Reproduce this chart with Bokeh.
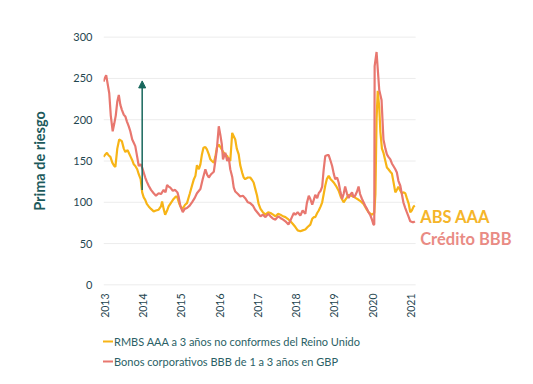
import math
from bokeh.plotting import figure
from bokeh.layouts import column
from bokeh.models import FixedTicker, Legend, LegendItem, Label, Arrow, NormalHead, Range1d
from bokeh.embed import file_html
from bokeh.resources import INLINE

# --- data ---
bbb_x = [2012.97, 2013.00, 2013.04, 2013.08, 2013.12, 2013.16, 2013.21, 2013.25, 2013.29, 2013.33,
         2013.37, 2013.41, 2013.45, 2013.50, 2013.54, 2013.58, 2013.63, 2013.67, 2013.72, 2013.76,
         2013.80, 2013.85, 2013.89, 2013.94, 2013.98, 2014.02, 2014.06, 2014.10, 2014.15, 2014.21,
         2014.28, 2014.34, 2014.41, 2014.47, 2014.54, 2014.59, 2014.63, 2014.67, 2014.71, 2014.78,
         2014.84, 2014.90, 2014.93, 2014.98, 2015.04, 2015.09, 2015.15, 2015.22, 2015.28, 2015.35,
         2015.41, 2015.50, 2015.56, 2015.63, 2015.68, 2015.72, 2015.78, 2015.85, 2015.89, 2015.93,
         2015.98, 2016.02, 2016.06, 2016.09, 2016.15, 2016.20, 2016.24, 2016.28, 2016.33, 2016.37,
         2016.41, 2016.48, 2016.54, 2016.61, 2016.67, 2016.74, 2016.80, 2016.87, 2016.93, 2017.00,
         2017.07, 2017.13, 2017.20, 2017.27, 2017.33, 2017.40, 2017.46, 2017.53, 2017.59, 2017.66,
         2017.72, 2017.80, 2017.85, 2017.89, 2017.94, 2017.98, 2018.04, 2018.11, 2018.17, 2018.24,
         2018.28, 2018.33, 2018.37, 2018.42, 2018.46, 2018.50, 2018.55, 2018.59, 2018.64, 2018.68,
         2018.72, 2018.76, 2018.81, 2018.85, 2018.90, 2018.94, 2018.98, 2019.02, 2019.07, 2019.11,
         2019.15, 2019.20, 2019.24, 2019.28, 2019.33, 2019.37, 2019.41, 2019.46, 2019.50, 2019.54,
         2019.59, 2019.63, 2019.67, 2019.72, 2019.76, 2019.80, 2019.85, 2019.89, 2019.94, 2019.98,
         2020.02, 2020.04, 2020.05, 2020.10, 2020.13, 2020.17, 2020.20, 2020.23, 2020.26, 2020.28,
         2020.33, 2020.37, 2020.41, 2020.46, 2020.50, 2020.54, 2020.59, 2020.63, 2020.67, 2020.72,
         2020.76, 2020.80, 2020.85, 2020.89, 2020.94, 2020.98, 2021.03, 2021.07, 2021.10]
bbb_y = [246, 250, 254, 243, 232, 205, 186, 195, 205, 222,
         230, 218, 212, 206, 204, 198, 192, 186, 176, 172,
         168, 155, 144, 146, 142, 136, 130, 125, 120, 115,
         111, 108, 111, 110, 115, 112, 121, 119, 118, 114,
         115, 112, 107, 95, 88, 92, 93, 96, 100, 105,
         111, 116, 128, 140, 133, 130, 134, 137, 150, 164,
         192, 182, 170, 152, 160, 150, 154, 140, 131, 118,
         113, 110, 107, 108, 105, 100, 99, 96, 91, 87,
         83, 85, 82, 86, 83, 80, 79, 83, 81, 79,
         77, 73, 78, 82, 87, 85, 88, 84, 90, 86,
         99, 108, 104, 97, 103, 109, 105, 111, 114, 119,
         140, 156, 157, 157, 150, 144, 135, 128, 130, 124,
         114, 104, 110, 119, 110, 105, 109, 112, 106, 108,
         113, 119, 110, 104, 100, 96, 92, 88, 84, 79,
         73, 73, 265, 282, 262, 236, 230, 224, 195, 176,
         165, 158, 155, 152, 147, 144, 140, 136, 126, 120,
         110, 100, 93, 88, 82, 77, 76, 76, 77]

abs_x = [2012.97, 2013.02, 2013.06, 2013.10, 2013.15, 2013.20, 2013.25, 2013.28, 2013.33, 2013.38,
         2013.45, 2013.50, 2013.54, 2013.60, 2013.63, 2013.68, 2013.72, 2013.76, 2013.80, 2013.85,
         2013.89, 2013.94, 2013.98, 2014.02, 2014.06, 2014.10, 2014.15, 2014.21, 2014.28, 2014.34,
         2014.41, 2014.47, 2014.50, 2014.54, 2014.58, 2014.63, 2014.67, 2014.74, 2014.80, 2014.86,
         2014.89, 2014.95, 2014.98, 2015.02, 2015.06, 2015.10, 2015.15, 2015.22, 2015.28, 2015.33,
         2015.37, 2015.41, 2015.46, 2015.50, 2015.54, 2015.58, 2015.63, 2015.67, 2015.72, 2015.76,
         2015.80, 2015.85, 2015.89, 2015.93, 2015.98, 2016.02, 2016.07, 2016.11, 2016.15, 2016.20,
         2016.24, 2016.28, 2016.31, 2016.33, 2016.37, 2016.41, 2016.45, 2016.50, 2016.54, 2016.59,
         2016.63, 2016.67, 2016.74, 2016.80, 2016.85, 2016.89, 2016.94, 2016.98, 2017.02, 2017.07,
         2017.13, 2017.20, 2017.27, 2017.33, 2017.40, 2017.46, 2017.53, 2017.59, 2017.66, 2017.72,
         2017.78, 2017.85, 2017.91, 2017.98, 2018.04, 2018.11, 2018.17, 2018.24, 2018.30, 2018.37,
         2018.42, 2018.46, 2018.50, 2018.55, 2018.59, 2018.64, 2018.68, 2018.72, 2018.76, 2018.80,
         2018.85, 2018.90, 2018.94, 2018.98, 2019.04, 2019.11, 2019.17, 2019.24, 2019.30, 2019.37,
         2019.43, 2019.50, 2019.56, 2019.63, 2019.69, 2019.76, 2019.82, 2019.89, 2019.94, 2019.98,
         2020.04, 2020.07, 2020.10, 2020.13, 2020.17, 2020.20, 2020.24, 2020.28, 2020.33, 2020.37,
         2020.41, 2020.46, 2020.50, 2020.54, 2020.59, 2020.63, 2020.67, 2020.72, 2020.76, 2020.80,
         2020.85, 2020.89, 2020.94, 2020.98, 2021.02, 2021.07, 2021.10]
abs_y = [155, 158, 160, 157, 155, 148, 144, 143, 165, 176,
         174, 165, 161, 163, 160, 155, 151, 146, 144, 140,
         134, 128, 112, 106, 103, 98, 95, 92, 89, 90,
         91, 95, 101, 92, 85, 90, 95, 100, 104, 107,
         107, 98, 95, 92, 94, 97, 99, 110, 120, 128,
         132, 145, 140, 146, 158, 166, 167, 164, 158, 152,
         150, 148, 155, 166, 170, 167, 163, 160, 158, 156,
         152, 150, 170, 184, 180, 176, 165, 158, 145, 136,
         130, 128, 130, 130, 127, 124, 115, 108, 98, 92,
         88, 85, 88, 87, 85, 83, 86, 85, 83, 82,
         80, 77, 74, 70, 66, 65, 66, 67, 70, 73,
         80, 82, 82, 87, 90, 95, 100, 110, 120, 128,
         132, 128, 126, 124, 120, 114, 106, 100, 104, 109,
         108, 107, 105, 103, 101, 98, 93, 88, 86, 85,
         87, 110, 200, 235, 215, 185, 165, 160, 150, 142,
         140, 137, 135, 125, 112, 115, 119, 114, 111, 112,
         111, 105, 98, 88, 90, 95, 96]

y_ticks = [0, 50, 100, 150, 200, 250, 300]
x_ticks = [2013, 2014, 2015, 2016, 2017, 2018, 2019, 2020, 2021]
series_labels = ["RMBS AAA a 3 años no conformes del Reino Unido",
                 "Bonos corporativos BBB de 1 a 3 años en GBP"]
annot_labels = ["ABS AAA", "Crédito BBB"]
arrow_x = 2013.98
arrow_from = 115
arrow_to = 247

X_START, GRID_END, X_END = 2012.97, 2021.12, 2023.78

ORANGE = "#F7B416"
RED = "#E8776F"
TEAL = "#1d5a5c"
TICK_COL = "#1f4650"
FONT = "Lato"

p = figure(width=533, height=320, output_backend="svg", toolbar_location=None,
           x_range=Range1d(X_START, X_END), y_range=Range1d(-2, 302),
           min_border_left=103, min_border_right=16, min_border_top=35, min_border_bottom=32)
p.outline_line_color = None
p.background_fill_color = "white"
p.border_fill_color = "white"

p.xgrid.grid_line_color = None
p.ygrid.grid_line_color = None
p.segment(x0=[X_START] * len(y_ticks), x1=[GRID_END] * len(y_ticks), y0=y_ticks, y1=y_ticks,
          line_color="#ececec", line_width=1)

p.yaxis.ticker = FixedTicker(ticks=y_ticks)
p.xaxis.ticker = FixedTicker(ticks=x_ticks)
for ax in (p.xaxis, p.yaxis):
    ax.axis_line_color = None
    ax.major_tick_line_color = None
    ax.minor_tick_line_color = None
    ax.major_tick_out = 0
    ax.major_tick_in = 0
    ax.minor_tick_out = 0
    ax.major_label_text_color = TICK_COL
    ax.major_label_text_font = FONT
p.yaxis.major_label_text_font_size = "11px"
p.xaxis.major_label_text_font_size = "10.5px"
p.yaxis.major_label_standoff = 11
p.xaxis.major_label_standoff = 7
p.xaxis.major_label_orientation = math.pi / 2
p.yaxis.axis_label = "Prima de riesgo"
p.yaxis.axis_label_text_font = FONT
p.yaxis.axis_label_text_font_style = "bold"
p.yaxis.axis_label_text_font_size = "14.5px"
p.yaxis.axis_label_text_color = TEAL
p.yaxis.axis_label_standoff = 22

r_abs = p.line(abs_x, abs_y, line_color=ORANGE, line_width=2.2)
r_bbb = p.line(bbb_x, bbb_y, line_color=RED, line_width=2.2)

p.add_layout(Arrow(end=NormalHead(size=7, fill_color="#17675c", line_color="#17675c"),
                   x_start=arrow_x, y_start=arrow_from, x_end=arrow_x, y_end=arrow_to,
                   line_color="#17675c", line_width=1.5))

p.add_layout(Label(x=2021.24, y=82, text=annot_labels[0], text_color="#F5B52A",
                   text_font=FONT, text_font_style="bold", text_font_size="16.5px",
                   text_baseline="middle"))
p.add_layout(Label(x=2021.24, y=56, text=annot_labels[1], text_color="#E98B84",
                   text_font=FONT, text_font_style="bold", text_font_size="16.5px",
                   text_baseline="middle"))

# legend strip below the chart
q = figure(width=533, height=60, output_backend="svg", toolbar_location=None,
           x_axis_location=None, y_axis_location=None,
           x_range=Range1d(0, 1), y_range=Range1d(0, 1),
           min_border_left=0, min_border_right=0, min_border_top=0, min_border_bottom=0)
q.outline_line_color = None
q.xgrid.grid_line_color = None
q.ygrid.grid_line_color = None
q_abs = q.line(x=[float("nan")], y=[float("nan")], line_color=ORANGE, line_width=2)
q_bbb = q.line(x=[float("nan")], y=[float("nan")], line_color=RED, line_width=2)
legend = Legend(items=[LegendItem(label=series_labels[0], renderers=[q_abs]),
                       LegendItem(label=series_labels[1], renderers=[q_bbb])],
                location=(-15, 9), orientation="vertical",
                background_fill_alpha=0, border_line_color=None,
                label_text_font=FONT, label_text_font_size="11px", label_text_color="#2b5f66",
                glyph_width=25, glyph_height=20, label_height=20, label_standoff=1, spacing=0,
                padding=0, margin=0)
q.add_layout(legend, "center")

layout = column(p, q, spacing=0)
open("out.html", "w").write(file_html(layout, INLINE))
